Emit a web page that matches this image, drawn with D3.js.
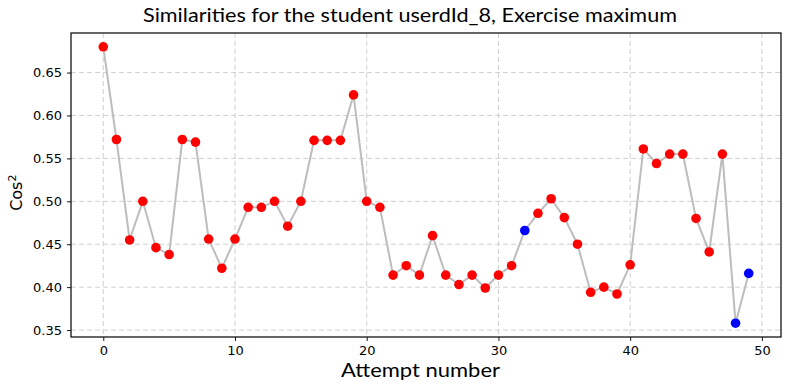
<!DOCTYPE html>
<html>
<head>
<meta charset="utf-8">
<script src="https://cdn.jsdelivr.net/npm/d3@7"></script>
<style>
  body { margin: 0; background: #fff; }
  .tick text { font-family: "DejaVu Sans", sans-serif; font-size: 13px; fill: #000; }
  .grid line { stroke: #d0d0d0; stroke-dasharray: 5,3; }
</style>
</head>
<body>
<div id="chart"></div>
<script>
var attempts = d3.range(0, 50);
var similarity = [
  0.680, 0.572, 0.455, 0.500, 0.446, 0.438, 0.572, 0.569, 0.456, 0.422,
  0.456, 0.493, 0.493, 0.500, 0.471, 0.500, 0.571, 0.571, 0.571, 0.624,
  0.500, 0.493, 0.414, 0.425, 0.414, 0.460, 0.414, 0.403, 0.414, 0.399,
  0.414, 0.425, 0.466, 0.486, 0.503, 0.481, 0.450, 0.394, 0.400, 0.392,
  0.426, 0.561, 0.544, 0.555, 0.555, 0.480, 0.441, 0.555, 0.358, 0.416
];
var blueAttempts = [32, 48, 49];
var xTicks = [0, 10, 20, 30, 40, 50];
var yTicks = [0.35, 0.40, 0.45, 0.50, 0.55, 0.60, 0.65];

var W = 790, H = 390;
var margin = { top: 33, right: 9, bottom: 53, left: 71 },
  width = W - margin.left - margin.right,
  height = H - margin.top - margin.bottom;

var data = attempts.map(function(a, i) { return { x: a, y: similarity[i] }; });

var xPad = (d3.max(attempts) - d3.min(attempts)) * 0.05;
var yExt = d3.extent(similarity), yPad = (yExt[1] - yExt[0]) * 0.05;

var x = d3.scaleLinear()
  .domain([d3.min(attempts) - xPad, d3.max(attempts) + xPad])
  .range([0, width]);
var y = d3.scaleLinear()
  .domain([yExt[0] - yPad, yExt[1] + yPad])
  .range([height, 0]);

var svg = d3.select("#chart").append("svg")
  .attr("width", W)
  .attr("height", H);

var g = svg.append("g")
  .attr("transform", "translate(" + margin.left + "," + margin.top + ")");

// grid
g.append("g").attr("class", "grid")
  .selectAll("line").data(xTicks).enter().append("line")
  .attr("x1", function(d) { return x(d); })
  .attr("x2", function(d) { return x(d); })
  .attr("y1", 0).attr("y2", height);
g.append("g").attr("class", "grid")
  .selectAll("line").data(yTicks).enter().append("line")
  .attr("y1", function(d) { return y(d); })
  .attr("y2", function(d) { return y(d); })
  .attr("x1", 0).attr("x2", width);

var line = d3.line()
  .x(function(d) { return x(d.x); })
  .y(function(d) { return y(d.y); });

g.append("path")
  .datum(data)
  .attr("fill", "none")
  .attr("stroke", "#bdbdbd")
  .attr("stroke-width", 2)
  .attr("d", line);

g.selectAll(".dot")
  .data(data)
  .enter().append("circle")
  .attr("class", "dot")
  .attr("cx", function(d) { return x(d.x); })
  .attr("cy", function(d) { return y(d.y); })
  .attr("r", 4.8)
  .attr("fill", function(d) { return blueAttempts.indexOf(d.x) >= 0 ? "#0000ff" : "#ff0000"; });

// axes
var xAxis = g.append("g")
  .attr("transform", "translate(0," + height + ")")
  .call(d3.axisBottom(x).tickValues(xTicks).tickSize(4).tickPadding(5).tickFormat(d3.format("d")));
var yAxis = g.append("g")
  .call(d3.axisLeft(y).tickValues(yTicks).tickSize(4).tickPadding(5).tickFormat(d3.format(".2f")));
[xAxis, yAxis].forEach(function(a) {
  a.select(".domain").remove();
  a.selectAll(".tick line").attr("stroke", "#000").attr("stroke-width", 0.9);
});

g.append("rect")
  .attr("width", width)
  .attr("height", height)
  .attr("fill", "none")
  .attr("stroke", "#000")
  .attr("stroke-width", 1.2);

// labels
svg.append("text")
  .text("Similarities for the student userdId_8, Exercise maximum")
  .attr("x", 410).attr("y", 22)
  .attr("text-anchor", "middle")
  .attr("textLength", 534)
  .attr("lengthAdjust", "spacingAndGlyphs")
  .style("font-family", "Lato, sans-serif")
  .style("font-size", "20px");

svg.append("text")
  .text("Attempt number")
  .attr("x", 420.5).attr("y", 377)
  .attr("text-anchor", "middle")
  .attr("textLength", 159)
  .attr("lengthAdjust", "spacingAndGlyphs")
  .style("font-family", "Lato, sans-serif")
  .style("font-size", "20px");

svg.append("text")
  .attr("transform", "translate(22," + (margin.top + y(0.51)) + ") rotate(-90)")
  .attr("text-anchor", "middle")
  .style("font-family", "'DejaVu Sans', sans-serif")
  .style("font-size", "16px")
  .html("Cos<tspan dy='-6' font-size='11px'>2</tspan>");
</script>
</body>
</html>
